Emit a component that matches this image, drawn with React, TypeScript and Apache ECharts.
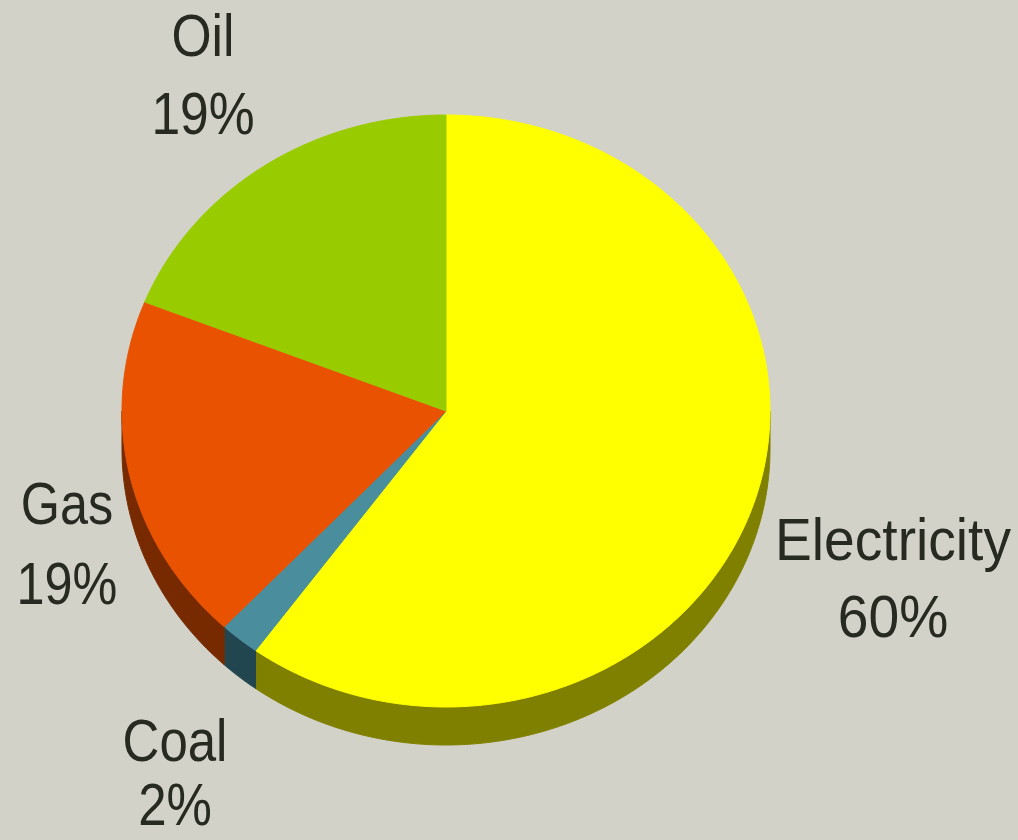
import React, { useEffect, useRef } from "react";
import * as echarts from "echarts";

// ---- data ----
const categories = ["Electricity", "Coal", "Gas", "Oil"];
const shares = [60, 2, 19, 19];
const topColors = ["#ffff00", "#4a8d9c", "#e85200", "#99cc00"];
const sideColors = ["#808000", "#22464f", "#772a00", "#4d6600"];

// ---- layout (pixels) ----
const CX = 446;
const CY = 411;
const RX = 324;
const RY = 296;
const DEPTH = 38;
// label anchor: [x, firstLineY, secondLineY, scaleX]
const labelLayout: Record<string, [number, number, number, number]> = {
  Oil: [203, 35, 113, 0.86],
  Electricity: [893, 539, 616, 0.92],
  Gas: [67, 503, 583, 0.84],
  Coal: [175, 741, 805, 0.85],
};

const BG = "#d2d2c8";
const TEXT = "#272a20";

function pt(a: number, dy = 0): [number, number] {
  const r = (a * Math.PI) / 180;
  return [CX + RX * Math.sin(r), CY - RY * Math.cos(r) + dy];
}

function arc(a1: number, a2: number, dy = 0): [number, number][] {
  const pts: [number, number][] = [];
  const n = Math.max(2, Math.ceil(Math.abs(a2 - a1) / 0.5));
  for (let k = 0; k <= n; k++) pts.push(pt(a1 + ((a2 - a1) * k) / n, dy));
  return pts;
}

export default function App() {
  const ref = useRef<HTMLDivElement>(null);
  useEffect(() => {
    document.body.style.margin = "0";
    const chart = echarts.init(ref.current!, undefined, { renderer: "svg" });
    const total = shares.reduce((s, v) => s + v, 0);

    const renderItem = (params: any, api: any) => {
      const i = params.dataIndex;
      let before = 0;
      for (let j = 0; j < i; j++) before += shares[j];
      const v = api.value(0);
      const a1 = (before / total) * 360;
      const a2 = ((before + v) / total) * 360;
      const children: any[] = [];
      const s1 = Math.max(a1, 90);
      const s2 = Math.min(a2, 270);
      if (s2 > s1) {
        const side = arc(s1, s2).concat(arc(s1, s2, DEPTH).reverse());
        children.push({
          type: "polygon",
          shape: { points: side },
          style: { fill: sideColors[i], stroke: sideColors[i], lineWidth: 1 },
        });
      }
      const top = [[CX, CY] as [number, number]].concat(arc(a1, a2));
      children.push({
        type: "polygon",
        shape: { points: top },
        style: { fill: topColors[i], stroke: topColors[i], lineWidth: 1 },
      });
      return { type: "group", children };
    };

    const texts: any[] = [];
    categories.forEach((c, i) => {
      const [x, y1, y2, sx] = labelLayout[c];
      const lines = [c, `${shares[i]}%`];
      [y1, y2].forEach((y, k) => {
        texts.push({
          type: "text",
          x,
          y,
          scaleX: sx,
          style: {
            text: lines[k],
            fill: TEXT,
            font: '60px "Liberation Sans", Arial, sans-serif',
            align: "center",
            verticalAlign: "middle",
          },
          z: 10,
        });
      });
    });

    chart.setOption({
      animation: false,
      backgroundColor: BG,
      series: [
        {
          type: "custom",
          coordinateSystem: "none",
          renderItem,
          data: shares.map((v, i) => ({ name: categories[i], value: [v] })),
        },
      ],
      graphic: texts,
    });
    return () => chart.dispose();
  }, []);
  return <div ref={ref} style={{ width: 1018, height: 840 }} />;
}
